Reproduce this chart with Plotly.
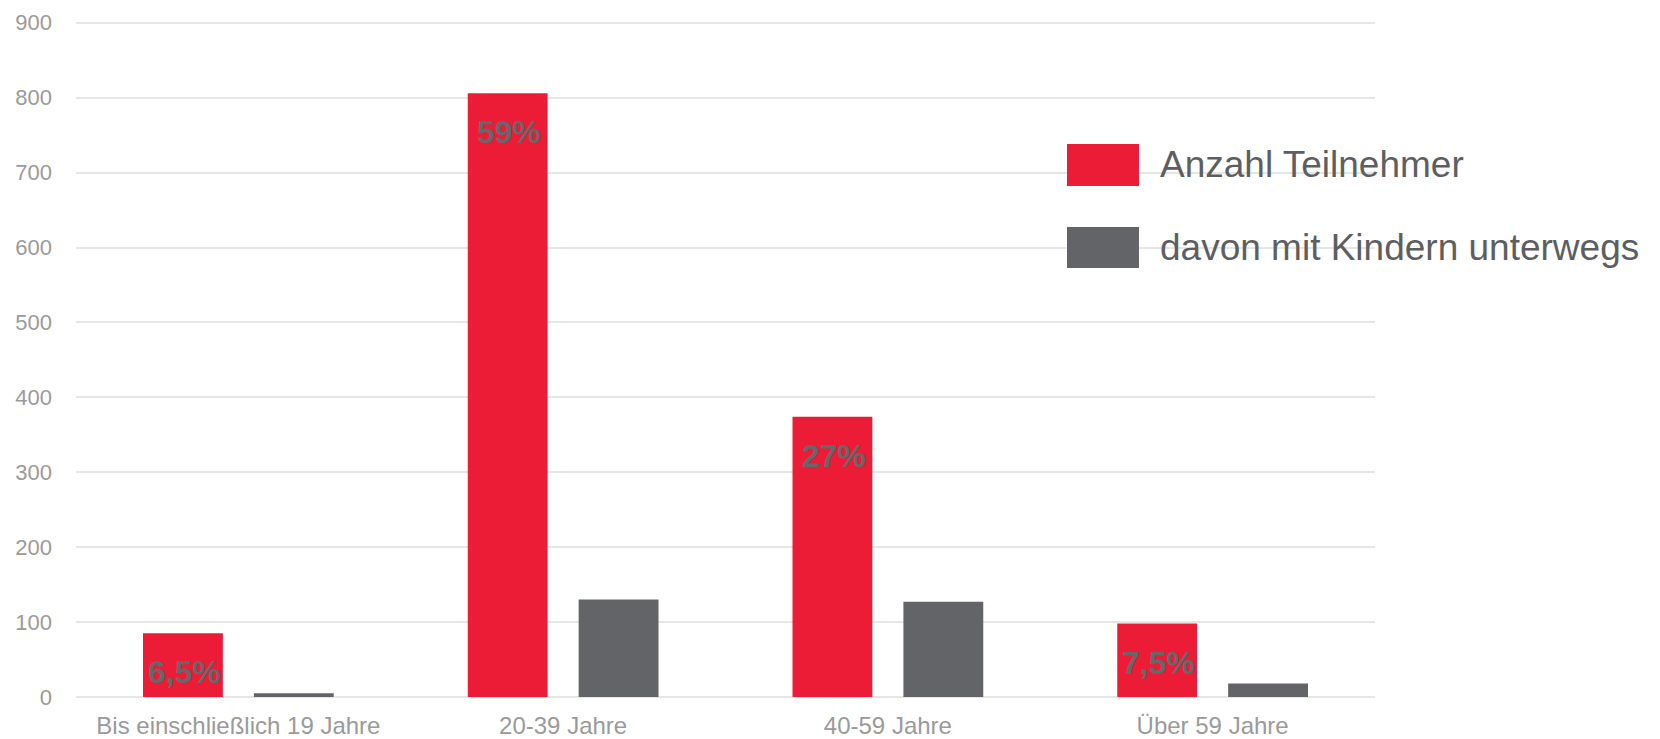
import plotly.graph_objects as go

categories = ["Bis einschließlich 19 Jahre", "20-39 Jahre", "40-59 Jahre", "Über 59 Jahre"]
teilnehmer = [85, 806, 374, 98]
mit_kindern = [5, 130, 127, 18]
percent_labels = ["6,5%", "59%", "27%", "7,5%"]
series_names = ["Anzahl Teilnehmer", "davon mit Kindern unterwegs"]
series_colors = ["#ec1c37", "#636467"]
y_ticks = [0, 100, 200, 300, 400, 500, 600, 700, 800, 900]

FONT = "Liberation Sans, Arial, sans-serif"
GRID = "#e6e6e6"

fig = go.Figure()
fig.add_trace(go.Bar(x=categories, y=teilnehmer, name=series_names[0],
                     marker=dict(color=series_colors[0], line=dict(width=0)),
                     showlegend=False))
fig.add_trace(go.Bar(x=categories, y=mit_kindern, name=series_names[1],
                     marker=dict(color=series_colors[1], line=dict(width=0)),
                     showlegend=False))

# percentage labels inside the red bars (near the top)
for cat, val, lab in zip(categories, teilnehmer, percent_labels):
    fig.add_annotation(x=cat, y=val, xref="x", yref="y", text=lab,
                       showarrow=False, xshift=-54, yshift=-39,
                       yanchor="middle", xanchor="center",
                       font=dict(family=FONT, size=32, color="#66676a", weight="bold"))

# custom legend with large swatches
legend_rows = [(0.8156, 0.7537, 0.7847), (0.6932, 0.6327, 0.663)]
for (y1, y0, yc), name, col in zip(legend_rows, series_names, series_colors):
    fig.add_shape(type="rect", xref="paper", yref="paper",
                  x0=0.7629, x1=0.8183, y0=y0, y1=y1,
                  fillcolor=col, line=dict(width=0))
    fig.add_annotation(x=0.833, y=yc, xref="paper", yref="paper", text=name,
                       showarrow=False, xanchor="left", yanchor="middle",
                       font=dict(family=FONT, size=37, color="#5d5e61"))

fig.update_layout(
    width=1660, height=739,
    margin=dict(l=76, r=285, t=19, b=42, autoexpand=False),
    paper_bgcolor="white", plot_bgcolor="white",
    barmode="group", bargap=0.317, bargroupgap=0.28,
    showlegend=False,
    font=dict(family=FONT, color="#9a9a9a"),
)
fig.update_yaxes(range=[0, 905], tickvals=y_ticks, showgrid=True,
                 gridcolor=GRID, gridwidth=1.5, zeroline=True,
                 zerolinecolor=GRID, zerolinewidth=1.5,
                 showline=False, ticks="", ticklabelstandoff=23, automargin=False,
                 tickfont=dict(family=FONT, size=22, color="#9a9a9a"))
fig.update_xaxes(showgrid=False, showline=False, zeroline=False, ticks="",
                 ticklabelstandoff=12, automargin=False,
                 tickfont=dict(family=FONT, size=24, color="#9a9a9a"))

fig.write_html("out.html", config={"displayModeBar": False},
               post_script="document.body.style.margin='0';document.body.style.overflow='hidden';")
